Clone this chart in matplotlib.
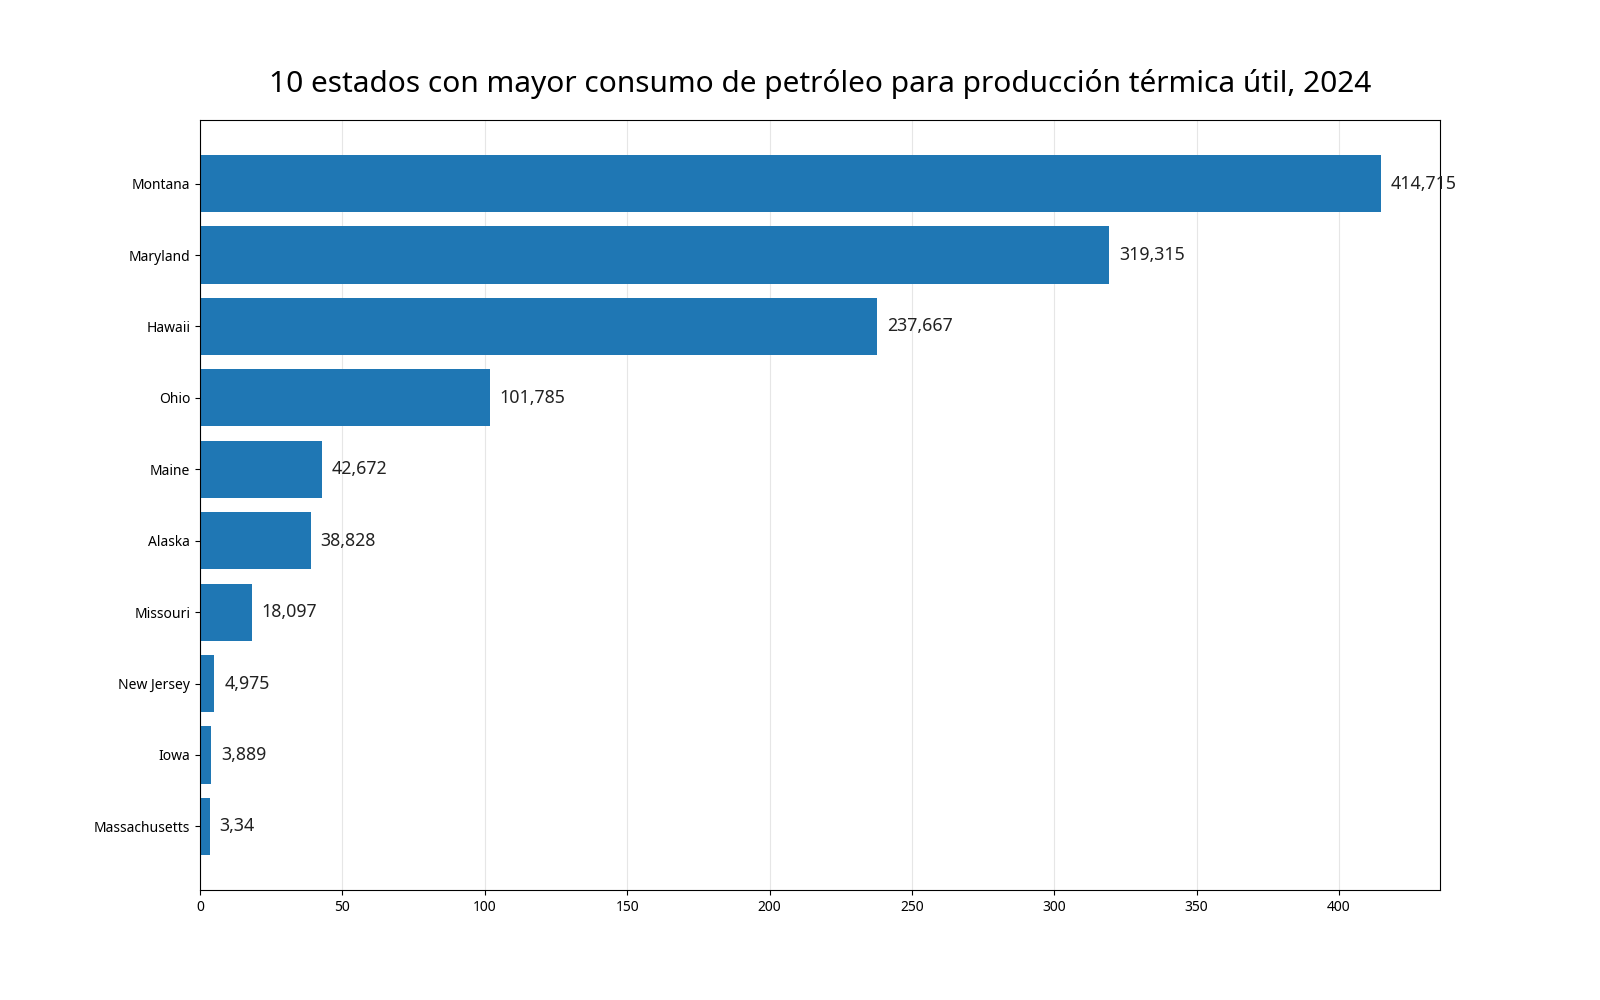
import matplotlib
matplotlib.use("Agg")
import matplotlib.pyplot as plt

plt.rcParams['font.family'] = ['Noto Sans', 'DejaVu Sans']

estados = ["Montana", "Maryland", "Hawaii", "Ohio", "Maine", "Alaska",
           "Missouri", "New Jersey", "Iowa", "Massachusetts"]
consumo = [414.715, 319.315, 237.667, 101.785, 42.672, 38.828,
           18.097, 4.975, 3.889, 3.34]
etiquetas = ["414,715", "319,315", "237,667", "101,785", "42,672", "38,828",
             "18,097", "4,975", "3,889", "3,34"]

fig, ax = plt.subplots(figsize=(16, 10), dpi=100)

# orden inverso para que el mayor quede arriba
y = list(range(len(estados)))[::-1]
ax.barh(y, consumo, height=0.8, color="#1f77b4", zorder=2)

for yi, v, txt in zip(y, consumo, etiquetas):
    ax.text(v + 3.5, yi, txt, va="center", ha="left", fontsize=12.8, color="#222222")

ax.set_yticks(y)
ax.set_yticklabels(estados, fontsize=10)
ax.tick_params(axis="x", labelsize=10)
ax.set_xlim(0, max(consumo) * 1.05)
ax.grid(axis="x", color="#e6e6e6", linewidth=0.8, zorder=0)
ax.set_axisbelow(True)
ax.set_title("10 estados con mayor consumo de petróleo para producción térmica útil, 2024",
             fontsize=21.5, pad=20)

fig.savefig("out.png")
